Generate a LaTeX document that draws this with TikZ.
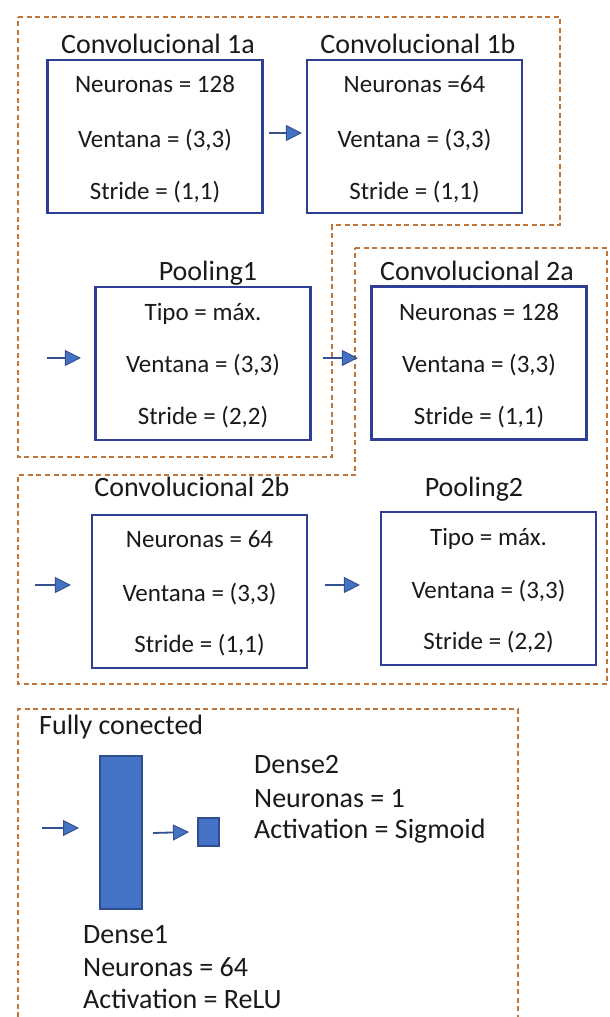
\documentclass[tikz,border=0pt]{standalone}
\usepackage{fontspec}
\setmainfont{Carlito}
\usetikzlibrary{arrows.meta}
\definecolor{boxblue}{HTML}{2E3F95}
\definecolor{arrblue}{HTML}{4472C4}
\definecolor{arrline}{HTML}{34508F}
\definecolor{dashbrown}{HTML}{C0763A}
\definecolor{densefill}{HTML}{4472C4}
\definecolor{denseline}{HTML}{2F4F8F}
\definecolor{txt}{HTML}{1A1A1A}
\begin{document}
\begin{tikzpicture}[x=1pt,y=-1pt,
  layerbox/.style={draw=boxblue,line width=2.2pt,minimum width=215pt,minimum height=153pt,inner sep=0pt},
  ttl/.style={font=\fontsize{28}{32}\selectfont,text=txt,anchor=base,inner sep=0pt},
  prm/.style={font=\fontsize{25}{28}\selectfont,text=txt,anchor=base,inner sep=0pt},
  dtxt/.style={font=\fontsize{28}{32}\selectfont,text=txt,anchor=base west,inner sep=0pt},
  arr/.style={draw=arrline,line width=1.8pt,-{Triangle[length=16pt,width=16pt,fill=arrblue,line width=1pt]}},
  group/.style={draw=dashbrown,line width=1.2pt,dash pattern=on 5pt off 3.5pt},
  dense/.style={draw=denseline,fill=densefill,line width=2pt,inner sep=0pt}]

\useasboundingbox (0,0) rectangle (610,1017);
\fill[white] (0,0) rectangle (610,1017);

% dashed groups
\draw[group] (18,17) -- (560,17) -- (560,225) -- (332,225) -- (332,457) -- (18,457) -- cycle;
\draw[group] (355,248) -- (607,248) -- (607,684) -- (18,684) -- (18,475) -- (355,475) -- cycle;
\draw[group] (18,1017) -- (18,709) -- (518,709) -- (518,1017);

% layer boxes
\node[layerbox] (c1a) at (155,136.5) {};
\node[layerbox] (c1b) at (414.5,136.5) {};
\node[layerbox] (p1) at (203,363.5) {};
\node[layerbox] (c2a) at (479,363) {};
\node[layerbox] (c2b) at (199.5,591.5) {};
\node[layerbox] (p2) at (488.5,588.5) {};

% titles
\node[ttl] (t1a) at (158,53) {Convolucional 1a};
\node[ttl] (t1b) at (418,53) {Convolucional 1b};
\node[ttl] (tp1) at (208,280) {Pooling1};
\node[ttl] (t2a) at (477,280) {Convolucional 2a};
\node[ttl] (t2b) at (192,496) {Convolucional 2b};
\node[ttl] (tp2) at (474,496) {Pooling2};

% parameters
\node[prm] (c1a1) at ([yshift=-34pt]c1a.north) {Neuronas = 128};
\node[prm] (c1a2) at ([yshift=-89pt]c1a.north) {Ventana = (3,3)};
\node[prm] (c1a3) at ([yshift=-141pt]c1a.north) {Stride = (1,1)};

\node[prm] (c1b1) at ([yshift=-34pt]c1b.north) {Neuronas =64};
\node[prm] (c1b2) at ([yshift=-89pt]c1b.north) {Ventana = (3,3)};
\node[prm] (c1b3) at ([yshift=-141pt]c1b.north) {Stride = (1,1)};

\node[prm] (p11) at ([yshift=-35pt]p1.north) {Tipo = máx.};
\node[prm] (p12) at ([yshift=-87pt]p1.north) {Ventana = (3,3)};
\node[prm] (p13) at ([yshift=-139pt]p1.north) {Stride = (2,2)};

\node[prm] (c2a1) at ([yshift=-35pt]c2a.north) {Neuronas = 128};
\node[prm] (c2a2) at ([yshift=-87pt]c2a.north) {Ventana = (3,3)};
\node[prm] (c2a3) at ([yshift=-139pt]c2a.north) {Stride = (1,1)};

\node[prm] (c2b1) at ([yshift=-34pt]c2b.north) {Neuronas = 64};
\node[prm] (c2b2) at ([yshift=-88pt]c2b.north) {Ventana = (3,3)};
\node[prm] (c2b3) at ([yshift=-139pt]c2b.north) {Stride = (1,1)};

\node[prm] (p21) at ([yshift=-35pt]p2.north) {Tipo = máx.};
\node[prm] (p22) at ([yshift=-88pt]p2.north) {Ventana = (3,3)};
\node[prm] (p23) at ([yshift=-139pt]p2.north) {Stride = (2,2)};

% arrows between layers
\draw[arr] ([xshift=5pt,yshift=3.5pt]c1a.east) -- ([xshift=-4pt,yshift=3.5pt]c1b.west);
\coordinate (in1) at (47,358);
\draw[arr] (in1) -- ([xshift=-13.5pt,yshift=5.5pt]p1.west);
\draw[arr] ([xshift=11.5pt,yshift=5.5pt]p1.east) -- ([xshift=-12.5pt,yshift=5pt]c2a.west);
\coordinate (in2) at (35,585);
\draw[arr] (in2) -- ([xshift=-20pt,yshift=6.5pt]c2b.west);
\draw[arr] ([xshift=17pt,yshift=6.5pt]c2b.east) -- ([xshift=-20pt,yshift=3.5pt]p2.west);

% fully connected
\node[dtxt] (fc) at (39,734) {Fully conected};
\node[dense,minimum width=42pt,minimum height=153pt] (d1) at (121,832.5) {};
\node[dense,minimum width=21pt,minimum height=28pt] (d2) at (208.5,832) {};
\coordinate (in3) at (42,828);
\draw[arr] (in3) -- ([xshift=-20pt,yshift=4.5pt]d1.west);
\draw[arr] ([xshift=10pt,yshift=-0.5pt]d1.east) -- ([xshift=-8pt]d2.west);

\node[dtxt] (d2a) at (254,773) {Dense2};
\node[dtxt] (d2b) at (254,807) {Neuronas = 1};
\node[dtxt] (d2c) at (254,838) {Activation = Sigmoid};
\node[dtxt] (d1a) at (83,943) {Dense1};
\node[dtxt] (d1b) at (83,976) {Neuronas = 64};
\node[dtxt] (d1c) at (83,1008) {Activation = ReLU};
\end{tikzpicture}
\end{document}
